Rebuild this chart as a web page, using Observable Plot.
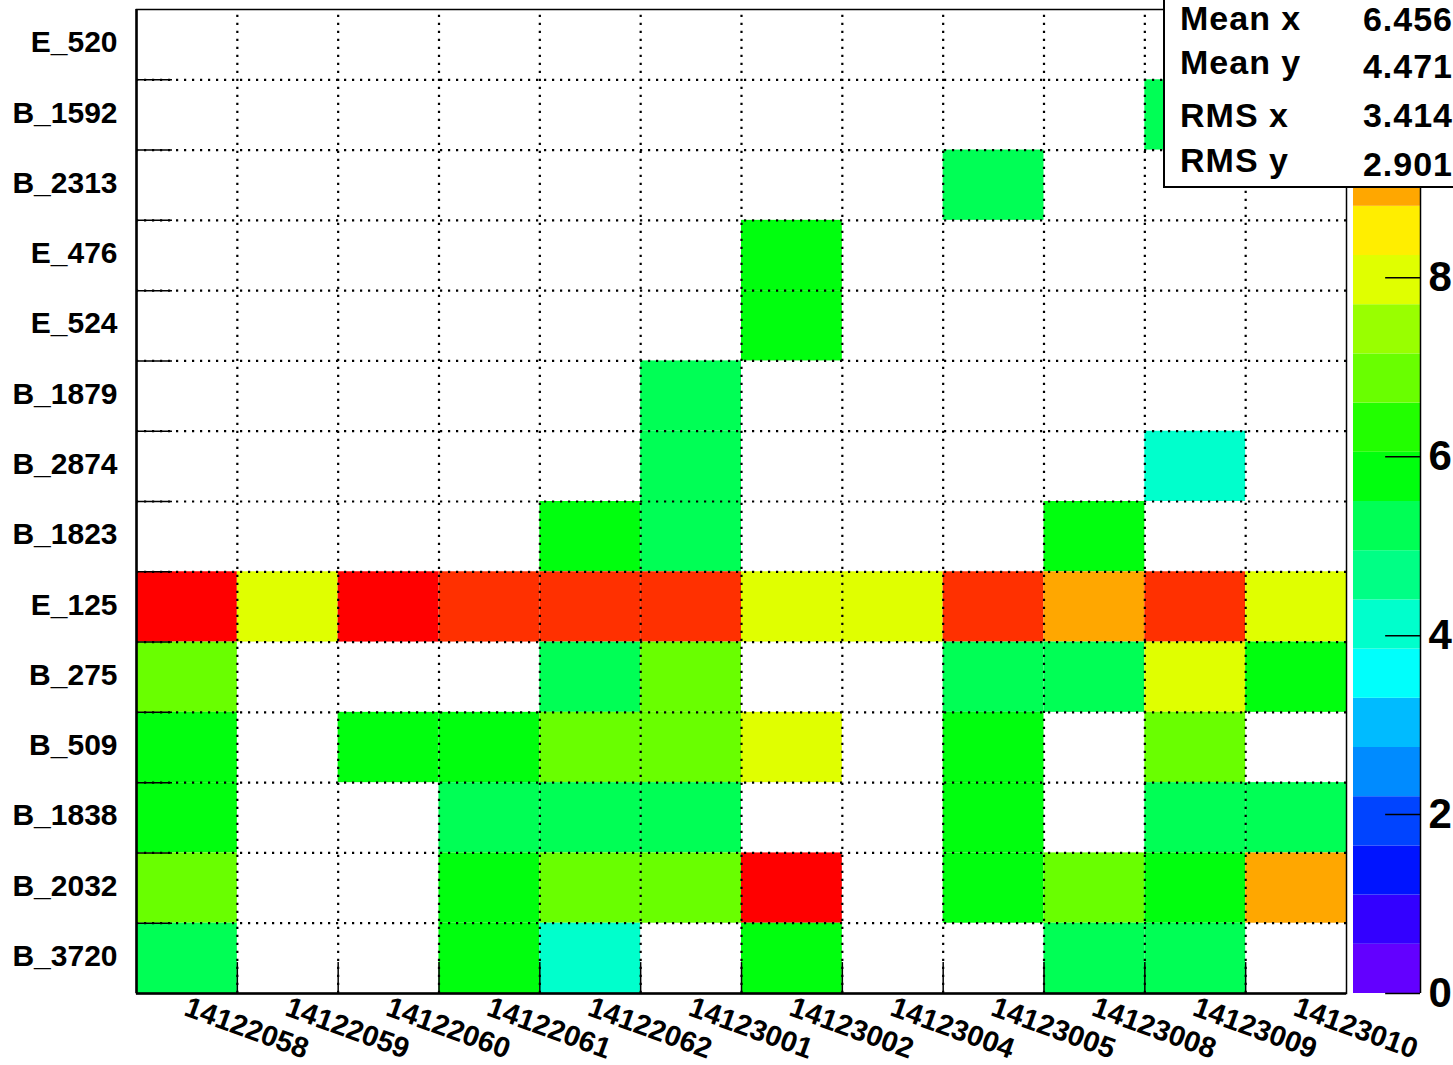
<!DOCTYPE html>
<html><head><meta charset="utf-8">
<script src="https://cdn.jsdelivr.net/npm/d3@7"></script>
<script src="https://cdn.jsdelivr.net/npm/@observablehq/plot@0.6"></script>
<style>
body{margin:0;background:#fff;}
#wrap{position:relative;width:1453px;height:1065px;overflow:hidden;font-family:"Liberation Sans",Arial,Helvetica,sans-serif;font-weight:bold;}
#row{display:flex;align-items:flex-start;}
#stats{position:absolute;left:1163px;top:-2px;width:292px;height:190px;border:2px solid #000;background:#fff;box-sizing:border-box;}
.st{position:absolute;font-size:34px;letter-spacing:1px;font-weight:bold;line-height:1;white-space:nowrap;color:#000;}
</style></head><body>
<div id="wrap"><div id="row"></div><div id="stats"></div></div>
<script>
// x categories (run numbers)
const runs = ["14122058","14122059","14122060","14122061","14122062","14123001",
              "14123002","14123004","14123005","14123008","14123009","14123010"];
// y categories, top to bottom
const detectors = ["E_520","B_1592","B_2313","E_476","E_524","B_1879","B_2874",
                   "B_1823","E_125","B_275","B_509","B_1838","B_2032","B_3720"];
// bin contents per detector row (null = empty bin)
const row_E_520  = [null,null,null,null,null,null,null,null,null,null,null,null];
const row_B_1592 = [null,null,null,null,null,null,null,null,null,null,5,null];
const row_B_2313 = [null,null,null,null,null,null,null,null,5,null,null,null];
const row_E_476  = [null,null,null,null,null,null,6,null,null,null,null,null];
const row_E_524  = [null,null,null,null,null,null,6,null,null,null,null,null];
const row_B_1879 = [null,null,null,null,null,5,null,null,null,null,null,null];
const row_B_2874 = [null,null,null,null,null,5,null,null,null,null,4,null];
const row_B_1823 = [null,null,null,null,6,5,null,null,null,6,null,null];
const row_E_125  = [11,8,11,10,10,10,8,8,10,9,10,8];
const row_B_275  = [7,null,null,null,5,7,null,null,5,5,8,6];
const row_B_509  = [6,null,6,6,7,7,8,null,6,null,7,null];
const row_B_1838 = [6,null,null,5,5,5,null,null,6,null,5,5];
const row_B_2032 = [7,null,null,6,7,7,11,null,6,7,6,9];
const row_B_3720 = [5,null,null,6,4,null,6,null,null,5,5,null];
const rows = [row_E_520,row_B_1592,row_B_2313,row_E_476,row_E_524,row_B_1879,row_B_2874,
              row_B_1823,row_E_125,row_B_275,row_B_509,row_B_1838,row_B_2032,row_B_3720];

// z axis (palette); the label at 10 is hidden behind the stats box in the reference
const zMax = 11;
const nLevels = 20;
const paletteTicks = [0,2,4,6,8];
const paletteColors = ["#6300ff","#3300ff","#0014ff","#0044ff","#008bff","#00bbff","#00fffc",
  "#00ffcc","#00ff85","#00ff55","#00ff0e","#22ff00","#69ff00","#99ff00","#e0ff00","#ffee00",
  "#ffa700","#ff7700","#ff3000","#ff0000"];

// stats box
const statsLabels = ["Mean x","Mean y","RMS x","RMS y"];
const statsValues = ["6.456","4.471","3.414","2.901"];

const font = '"Liberation Sans", Arial, Helvetica, sans-serif';
const nx = runs.length, ny = detectors.length;
const cells = [];
detectors.forEach((d, r) => rows[r].forEach((v, c) => {
  if (v != null) cells.push({run: runs[c], det: d, xi: c, yi: ny - 1 - r, v});
}));
const step = zMax / nLevels;
const thresholds = d3.range(1, nLevels).map(k => k * step);
const dots = {stroke: "black", strokeWidth: 2.2, strokeDasharray: "2.2,5.8"};

const main = Plot.plot({
  width: 1353, height: 1065,
  marginLeft: 136, marginRight: 7, marginTop: 9, marginBottom: 72,
  x: {domain: [0, nx], axis: null},
  y: {domain: [0, ny], axis: null},
  color: {type: "threshold", domain: thresholds, range: paletteColors},
  style: {fontFamily: font, fontWeight: "bold", background: "white", overflow: "visible"},
  marks: [
    Plot.rect(cells, {x1: d => d.xi, x2: d => d.xi + 1, y1: d => d.yi, y2: d => d.yi + 1, fill: "v"}),
    Plot.ruleX(d3.range(1, nx), {...dots, y1: 0, y2: ny}),
    Plot.ruleY(d3.range(1, ny), {...dots, x1: 0, x2: nx}),
    Plot.ruleY(d3.range(1, ny), {x1: 0, x2: 0.357, stroke: "black", strokeWidth: 1.5}),
    Plot.ruleX(d3.range(1, nx), {y1: 0, y2: 0.44, stroke: "black", strokeWidth: 1.5}),
    Plot.frame({stroke: "black", strokeWidth: 1.5}),
    Plot.ruleX([0], {stroke: "black", strokeWidth: 2.5}),
    Plot.ruleY([0], {stroke: "black", strokeWidth: 2.5}),
    Plot.text(detectors, {x: 0, y: (d, i) => ny - 1 - i + 0.5, text: d => d,
      textAnchor: "end", dx: -19, dy: -2, fontSize: 30, fontWeight: "bold", fill: "black"}),
    Plot.text(runs, {x: (d, i) => i + 0.5, y: 0, text: d => d, rotate: 20,
      textAnchor: "start", lineAnchor: "top", dx: 3, dy: 2, fontSize: 29, fontWeight: "bold", fill: "black"})
  ]
});

const levels = d3.range(nLevels).map(k => ({lo: k * step, hi: (k + 1) * step, c: paletteColors[k]}));
const bar = Plot.plot({
  width: 100, height: 1065,
  marginLeft: 0, marginRight: 33, marginTop: 9, marginBottom: 72,
  x: {domain: [0, 1], axis: null},
  y: {domain: [0, zMax], axis: null},
  style: {fontFamily: font, fontWeight: "bold", background: "transparent", overflow: "visible"},
  marks: [
    Plot.rect(levels, {x1: 0, x2: 1, y1: "lo", y2: "hi", fill: "c"}),
    Plot.ruleY(paletteTicks, {x1: 0.48, x2: 1, stroke: "black", strokeWidth: 1.5}),
    Plot.ruleX([1], {y1: 0, y2: zMax, stroke: "black", strokeWidth: 1.5}),
    Plot.text(paletteTicks, {x: 1, y: d => d, text: d => String(d), textAnchor: "start",
      dx: 8, fontSize: 42, fontWeight: "bold", fill: "black"})
  ]
});

document.getElementById("row").append(main, bar);

const stats = document.getElementById("stats");
const labelTops = [1, 45, 98, 143];
const valueTops = [2, 49, 98, 147];
statsLabels.forEach((t, i) => {
  const el = document.createElement("div");
  el.className = "st"; el.textContent = t;
  el.style.left = "15px"; el.style.top = labelTops[i] + "px";
  stats.append(el);
  const v = document.createElement("div");
  v.className = "st"; v.textContent = statsValues[i];
  v.style.right = "0px"; v.style.top = valueTops[i] + "px";
  stats.append(v);
});
</script>
</body></html>
